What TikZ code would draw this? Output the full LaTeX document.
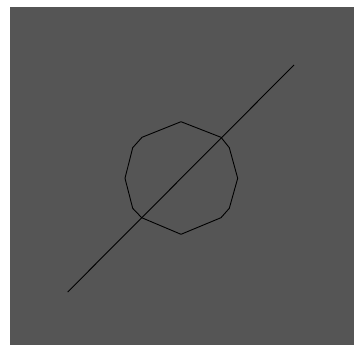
\documentclass[tikz,border=0pt]{standalone}
\definecolor{bggray}{HTML}{555555}
\tikzset{outline/.style={draw=black, line width=0.9pt, line join=round}}
\begin{document}
\begin{tikzpicture}[x=1pt,y=-1pt]
\useasboundingbox (0,0) rectangle (354,345);
\fill[bggray] (10,7) rectangle (354,345);
\draw[outline] (181,121.7) -- (221,137.3) -- (229.3,147.7) -- (237.7,178.3) -- (229.3,208.3) -- (221,217.7) -- (181,234.3) -- (141.7,217.7) -- (132.7,208.3) -- (125,178.3) -- (132.7,147.7) -- (142,137.3) -- cycle;
\coordinate (p1) at (67.7,292);
\coordinate (p2) at (294,65);
\draw[outline] (p1) -- (p2);
\end{tikzpicture}
\end{document}
